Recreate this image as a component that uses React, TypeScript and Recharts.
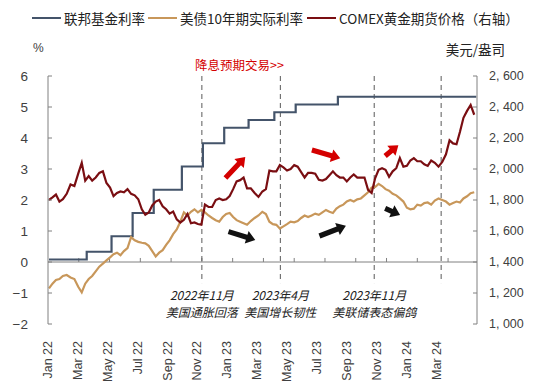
import React from "react";
import { LineChart, Line, XAxis, YAxis, ReferenceLine } from "recharts";

// 联邦基金有效利率（阶梯）
const FED_DATES = [
  "2022-01-03", "2022-03-17", "2022-05-05", "2022-06-16", "2022-07-28", "2022-09-22",
  "2022-11-03", "2022-12-15", "2023-02-02", "2023-03-23", "2023-05-04", "2023-07-27", "2024-04-26",
];
const FED_RATES = [0.08, 0.33, 0.83, 1.58, 2.33, 3.08, 3.83, 4.33, 4.58, 4.83, 5.08, 5.33, 5.33];

// weekly series, first week starts Mon 2022-01-03
const WEEK_START = "2022-01-03";

const GOLD = [
  // 2022
  1800, 1817, 1835, 1790, 1805, 1840, 1900, 1890, 1970, 2040, 1925, 1955, 1925,
  1945, 1975, 1985, 1910, 1880, 1825, 1845, 1855, 1850, 1870, 1840, 1830, 1805,
  1740, 1705, 1720, 1765, 1790, 1800, 1760, 1740, 1712, 1725, 1675, 1655, 1672,
  1710, 1650, 1655, 1645, 1640, 1770, 1755, 1755, 1800, 1810, 1800, 1805, 1826,
  // 2023
  1870, 1920, 1928, 1945, 1875, 1875, 1845, 1820, 1855, 1870, 1990, 1985, 1985,
  2025, 2010, 1990, 2000, 2025, 2015, 1980, 1945, 1975, 1975, 1970, 1930, 1925,
  1935, 1960, 1985, 1960, 1945, 1945, 1920, 1945, 1965, 1945, 1945, 1945, 1865,
  1845, 1940, 1995, 2005, 1995, 1950, 1985, 2005, 2070, 2015, 2020, 2055, 2070,
  // 2024
  2050, 2050, 2030, 2020, 2055, 2040, 2015, 2045, 2095, 2185, 2165, 2160, 2240,
  2330, 2375, 2413, 2350,
];

const REAL_YIELD = [
  // 2022
  -0.85, -0.7, -0.58, -0.55, -0.45, -0.42, -0.5, -0.55, -0.8, -0.98, -0.7, -0.55, -0.45,
  -0.3, -0.15, -0.05, 0.05, 0.15, 0.25, 0.3, 0.22, 0.35, 0.45, 0.8, 0.7, 0.65,
  0.62, 0.6, 0.52, 0.35, 0.18, 0.3, 0.38, 0.55, 0.7, 0.9, 1.05, 1.3, 1.6,
  1.5, 1.62, 1.7, 1.6, 1.68, 1.6, 1.5, 1.42, 1.35, 1.3, 1.45, 1.55, 1.58,
  // 2023
  1.45, 1.35, 1.3, 1.25, 1.2, 1.32, 1.42, 1.5, 1.62, 1.55, 1.3, 1.22, 1.2,
  1.08, 1.15, 1.22, 1.3, 1.28, 1.32, 1.42, 1.5, 1.45, 1.5, 1.56, 1.52, 1.6,
  1.68, 1.62, 1.58, 1.72, 1.8, 1.85, 1.95, 2.0, 1.95, 2.02, 2.05, 2.15, 2.25,
  2.4, 2.42, 2.52, 2.45, 2.35, 2.3, 2.2, 2.15, 2.05, 1.95, 1.75, 1.7, 1.72,
  // 2024
  1.85, 1.82, 1.9, 1.92, 1.85, 1.98, 2.05, 2.0, 1.95, 1.85, 1.9, 1.95, 1.92,
  2.05, 2.12, 2.22, 2.25,
];

const X_LABELS = [
  "Jan 22", "Mar 22", "May 22", "Jul 22", "Sep 22", "Nov 22", "Jan 23",
  "Mar 23", "May 23", "Jul 23", "Sep 23", "Nov 23", "Jan 24", "Mar 24",
];
const X_LABEL_MONTHS = [0, 2, 4, 6, 8, 10, 12, 14, 16, 18, 20, 22, 24, 26];
const LABEL_SCALE = 0.9714; // labels sit slightly left of their month ticks in the original

const LEFT_TICKS = [-2, -1, 0, 1, 2, 3, 4, 5, 6];
const RIGHT_TICKS = [1000, 1200, 1400, 1600, 1800, 2000, 2200, 2400, 2600];

const EVENT_MONTHS = [10.0, 15.1, 21.2, 25.55];
const EVENT_TITLES = ["2022年11月", "2023年4月", "2023年11月", ""];
const EVENT_NOTES = ["美国通胀回落", "美国增长韧性", "美联储表态偏鸽", ""];

// arrows: [x1, y1, x2, y2] in months / left-axis units
const RED_ARROWS = [
  [11.53, 2.71, 12.82, 3.39],
  [17.15, 3.61, 18.99, 3.35],
  [21.91, 3.42, 22.77, 3.77],
];
const BLACK_ARROWS = [
  [11.73, 0.98, 13.47, 0.71],
  [17.64, 0.84, 19.36, 1.17],
  [21.91, 1.73, 22.88, 1.52],
];

const FED_COLOR = "#44546A";
const REAL_COLOR = "#C8975A";
const GOLD_COLOR = "#7A0E12";
const AXIS_COLOR = "#808080";
const TEXT_COLOR = "#404040";
const CJK = '"Noto Sans CJK SC", "Liberation Sans", sans-serif';
const LATIN = '"Liberation Sans", Arial, sans-serif';

const LEFT_MARGIN = 20;
const RIGHT_MARGIN = 12;

function monthPos(iso: string) {
  const [y, m, d] = iso.split("-").map(Number);
  const days = new Date(Date.UTC(y, m, 0)).getUTCDate();
  return (y - 2022) * 12 + (m - 1) + (d - 1) / days;
}

function weekDate(i: number) {
  const t = Date.parse(WEEK_START + "T00:00:00Z") + i * 7 * 86400000;
  return new Date(t).toISOString().slice(0, 10);
}

const fedData = FED_DATES.map((d, i) => ({ x: monthPos(d), fed: FED_RATES[i] }));
const goldData = GOLD.map((v, i) => ({ x: monthPos(weekDate(i)), gold: v }));
const realData = REAL_YIELD.map((v, i) => ({ x: monthPos(weekDate(i)), real: v }));

const fmtThousands = (v: number) => {
  const s = String(v);
  return s.length > 3 ? `${s.slice(0, -3)}, ${s.slice(-3)}` : s;
};

const LeftTick = (p: any) => (
  <g>
    <line x1={p.x + LEFT_MARGIN} x2={p.x + LEFT_MARGIN + 4} y1={p.y} y2={p.y} stroke={AXIS_COLOR} />
    <text x={p.x} y={p.y} textAnchor="end" dominantBaseline="central" fontSize={13.5} fill={TEXT_COLOR} fontFamily={LATIN}>
      {p.payload.value < 0 ? `\u2212${Math.abs(p.payload.value)}` : p.payload.value}
    </text>
  </g>
);

const RightTick = (p: any) => (
  <g>
    <line x1={p.x - RIGHT_MARGIN} x2={p.x - RIGHT_MARGIN - 4} y1={p.y} y2={p.y} stroke={AXIS_COLOR} />
    <text x={p.x} y={p.y} textAnchor="start" dominantBaseline="central" fontSize={12.5} fill={TEXT_COLOR} fontFamily={LATIN}>
      {fmtThousands(p.payload.value)}
    </text>
  </g>
);

const BottomTick = (p: any) => (
  <text
    x={p.x}
    y={p.y}
    transform={`rotate(-90 ${p.x} ${p.y})`}
    textAnchor="end"
    dominantBaseline="central"
    fontSize={12.5}
    fill={TEXT_COLOR}
    fontFamily={LATIN}
  >
    {X_LABELS[p.index]}
  </text>
);

const arrowShape = (color: string) => (p: any) => {
  const { x1, y1, x2, y2 } = p;
  const dx = x2 - x1;
  const dy = y2 - y1;
  const len = Math.hypot(dx, dy) || 1;
  const ux = dx / len;
  const uy = dy / len;
  const nx = -uy;
  const ny = ux;
  const hl = 9;
  const hw = 6.5;
  const sw = 2.6;
  const bx = x2 - ux * hl;
  const by = y2 - uy * hl;
  const pts = [
    [x1 + nx * sw, y1 + ny * sw],
    [bx + nx * sw, by + ny * sw],
    [bx + nx * hw, by + ny * hw],
    [x2, y2],
    [bx - nx * hw, by - ny * hw],
    [bx - nx * sw, by - ny * sw],
    [x1 - nx * sw, y1 - ny * sw],
  ];
  return <polygon points={pts.map((q) => q.join(",")).join(" ")} fill={color} />;
};

const eventLabel = (i: number) => (props: any) => {
  const vb = props.viewBox || {};
  const x = vb.x;
  const bottom = vb.y + vb.height;
  if (!EVENT_TITLES[i]) return null;
  return (
    <g fontFamily={CJK} fontStyle="italic" fontSize={12} fill="#222" textAnchor="middle">
      <text x={x} y={bottom + 11} dominantBaseline="central">{EVENT_TITLES[i]}</text>
      <text x={x} y={bottom + 28.5} dominantBaseline="central">{EVENT_NOTES[i]}</text>
    </g>
  );
};

const legendItems = [
  { name: "联邦基金利率", color: FED_COLOR, x: 32 },
  { name: "美债10年期实际利率", color: REAL_COLOR, x: 148 },
  { name: "COMEX黄金期货价格（右轴）", color: GOLD_COLOR, x: 307 },
];

export default function App() {
  return (
    <div style={{ position: "absolute", left: 0, top: 0, width: 535, height: 383, background: "#fff", fontFamily: CJK }}>
      <LineChart width={535} height={383} margin={{ top: 76, right: 0, bottom: 0, left: 0 }}>
        <XAxis
          type="number"
          dataKey="x"
          domain={[0, 27.88]}
          allowDataOverflow
          ticks={X_LABEL_MONTHS.map((m) => m * LABEL_SCALE)}
          interval={0}
          height={59}
          axisLine={false}
          tickLine={false}
          tickSize={0}
          tickMargin={17}
          tick={BottomTick}
        />
        <YAxis
          yAxisId="left"
          orientation="left"
          domain={[-2, 6]}
          ticks={LEFT_TICKS}
          width={48}
          axisLine={{ stroke: AXIS_COLOR }}
          tickLine={false}
          tickSize={0}
          tickMargin={LEFT_MARGIN}
          tick={LeftTick}
          interval={0}
        />
        <YAxis
          yAxisId="right"
          orientation="right"
          domain={[1000, 2600]}
          ticks={RIGHT_TICKS}
          width={58}
          axisLine={{ stroke: AXIS_COLOR }}
          tickLine={false}
          tickSize={0}
          tickMargin={RIGHT_MARGIN}
          tick={RightTick}
          interval={0}
        />
        <ReferenceLine yAxisId="left" y={0} stroke={AXIS_COLOR} strokeWidth={1} />
        {X_LABEL_MONTHS.slice(1).map((m) => (
          <ReferenceLine
            key={`t${m}`}
            yAxisId="left"
            segment={[{ x: m, y: 0 }, { x: m, y: 0.13 }]}
            stroke={AXIS_COLOR}
          />
        ))}
        {EVENT_MONTHS.map((m, i) => (
          <ReferenceLine
            key={`e${i}`}
            yAxisId="left"
            segment={[{ x: m, y: 6 }, { x: m, y: -0.68 }]}
            stroke="#595959"
            strokeDasharray="5 4"
            label={eventLabel(i)}
          />
        ))}
        <Line
          yAxisId="left"
          data={fedData}
          dataKey="fed"
          type="stepAfter"
          stroke={FED_COLOR}
          strokeWidth={2.2}
          dot={false}
          isAnimationActive={false}
        />
        <Line
          yAxisId="left"
          data={realData}
          dataKey="real"
          type="linear"
          stroke={REAL_COLOR}
          strokeWidth={2.2}
          dot={false}
          isAnimationActive={false}
        />
        <Line
          yAxisId="right"
          data={goldData}
          dataKey="gold"
          type="linear"
          stroke={GOLD_COLOR}
          strokeWidth={2.2}
          dot={false}
          isAnimationActive={false}
        />
        {RED_ARROWS.map((a, i) => (
          <ReferenceLine
            key={`r${i}`}
            yAxisId="left"
            segment={[{ x: a[0], y: a[1] }, { x: a[2], y: a[3] }]}
            shape={arrowShape("#D40000")}
          />
        ))}
        {BLACK_ARROWS.map((a, i) => (
          <ReferenceLine
            key={`b${i}`}
            yAxisId="left"
            segment={[{ x: a[0], y: a[1] }, { x: a[2], y: a[3] }]}
            shape={arrowShape("#111111")}
          />
        ))}
      </LineChart>

      {legendItems.map((it) => (
        <div key={it.name} style={{ position: "absolute", left: it.x, top: 8, height: 20, display: "flex", alignItems: "center" }}>
          <div style={{ width: 29, height: 2.5, background: it.color, marginRight: 3 }} />
          <span style={{ fontSize: 13.5, color: "#222", whiteSpace: "nowrap", lineHeight: "20px" }}>{it.name}</span>
        </div>
      ))}
      <div style={{ position: "absolute", left: 33, top: 40, fontSize: 12, color: TEXT_COLOR, lineHeight: "16px", fontFamily: LATIN }}>%</div>
      <div style={{ position: "absolute", right: 30, top: 40, fontSize: 13.5, color: "#222", lineHeight: "18px" }}>美元/盎司</div>
      <div style={{ position: "absolute", left: 195, top: 56, fontSize: 12.5, color: "#D40000", lineHeight: "18px", whiteSpace: "nowrap" }}>
        降息预期交易&gt;&gt;
      </div>
    </div>
  );
}
